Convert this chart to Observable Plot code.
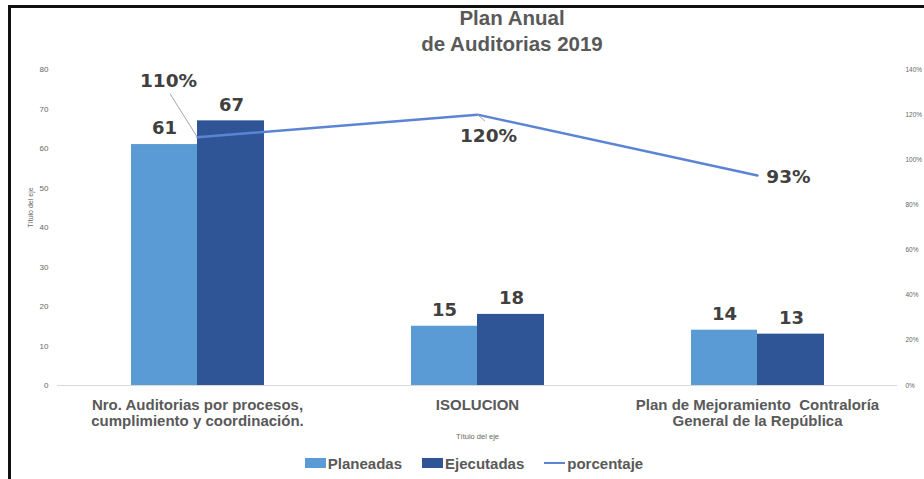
<!DOCTYPE html>
<html><head><meta charset="utf-8">
<script src="https://cdn.jsdelivr.net/npm/d3@7"></script>
<script src="https://cdn.jsdelivr.net/npm/@observablehq/plot@0.6"></script>
<style>
body{margin:0;background:#fff;}
#wrap{position:relative;width:924px;height:479px;overflow:hidden;font-family:"Liberation Sans",Arial,sans-serif;background:#fff;}
#frame{position:absolute;left:8px;top:5px;width:930px;height:471px;border-top:3px solid #111;border-left:3px solid #111;border-bottom:2px solid #d9d9d9;}
#title{position:absolute;left:0;top:5px;width:824px;padding-left:100px;text-align:center;font-weight:bold;font-size:20.5px;line-height:26px;color:#595959;}
#chart{position:absolute;left:0;top:60px;}
#legend{position:absolute;left:0;top:451px;width:900px;padding-left:24px;height:24px;display:flex;justify-content:center;align-items:center;font-weight:bold;font-size:15px;color:#595959;}
#legend .it{display:flex;align-items:center;margin:0 10px;}
#legend .sw{display:inline-block;width:21px;height:10px;margin-right:2px;}
#legend .ln{display:inline-block;width:21px;height:2.5px;margin-right:2px;}
</style></head><body>
<div id="wrap">
  <div id="frame"></div>
  <div id="title">Plan Anual<br>de Auditorias 2019</div>
  <div id="chart"></div>
  <div id="legend"></div>
</div>
<script>
const categories = [
  "Nro. Auditorias por procesos,\ncumplimiento y coordinación.",
  "ISOLUCION",
  "Plan de Mejoramiento  Contraloría\nGeneral de la República"
];
const planeadas = [61, 15, 14];
const ejecutadas = [67, 18, 13];
const porcentaje = [1.10, 1.20, 0.93];
const leftTicks = [0, 10, 20, 30, 40, 50, 60, 70, 80];
const rightTicks = [0, 0.2, 0.4, 0.6, 0.8, 1.0, 1.2, 1.4];
const seriesNames = ["Planeadas", "Ejecutadas", "porcentaje"];
const axisTitle = "Título del eje";

const colors = {plan: "#5b9bd5", ejec: "#2f5597", pct: "#5b84d4"};
const yMax = 80, pMax = 1.4;
const p2y = p => p * yMax / pMax;

const data = categories.map((c, i) => ({cat: c, plan: planeadas[i], ejec: ejecutadas[i], pct: porcentaje[i], py: p2y(porcentaje[i])}));

const labelFont = "DejaVu Sans, Verdana, sans-serif";
const pctText = (i, dx, dy) => Plot.text([data[i]], {x: "cat", y: "py", text: d => Math.round(d.pct * 100) + "%", dx, dy, fontSize: 18.5, fontWeight: "bold", fill: "#404040", fontFamily: labelFont});

const plot = Plot.plot({
  width: 924,
  height: 390,
  marginTop: 9,
  marginBottom: 65,
  marginLeft: 57,
  marginRight: 27,
  style: {fontFamily: "Liberation Sans, Arial, sans-serif", background: "transparent", overflow: "visible"},
  x: {domain: categories, padding: 0, axis: null},
  y: {domain: [0, yMax], axis: null},
  marks: [
    Plot.ruleY([0], {stroke: "#d9d9d9", strokeWidth: 1}),
    Plot.barY(data, {x: "cat", y: "plan", fill: colors.plan, insetLeft: 74, insetRight: 140}),
    Plot.barY(data, {x: "cat", y: "ejec", fill: colors.ejec, insetLeft: 140, insetRight: 73}),
    Plot.line(data, {x: "cat", y: "py", stroke: colors.pct, strokeWidth: 2.5}),
    Plot.text(data, {x: "cat", y: "plan", text: d => String(d.plan), dx: -33, dy: -16, fontSize: 18, fontWeight: "bold", fill: "#404040", fontFamily: labelFont}),
    Plot.text(data, {x: "cat", y: "ejec", text: d => String(d.ejec), dx: 34, dy: -16, fontSize: 18, fontWeight: "bold", fill: "#404040", fontFamily: labelFont}),
    pctText(0, -29, -56),
    pctText(1, 11, 21),
    pctText(2, 31, 1),
    Plot.axisY({ticks: leftTicks, tickSize: 0, tickPadding: 9, fontSize: 8, color: "#666", label: null}),
    Plot.axisY({anchor: "right", ticks: rightTicks.map(p2y), tickFormat: d => Math.round(d * pMax / yMax * 100) + "%", tickSize: 0, tickPadding: 8, fontSize: 6.5, color: "#666", label: null}),
    Plot.text([axisTitle], {frameAnchor: "left", dx: -27, rotate: -90, fontSize: 7, fill: "#666"}),
    Plot.text([axisTitle], {frameAnchor: "bottom", dy: 53, fontSize: 7.5, fill: "#666"}),
    Plot.text(data, {x: "cat", text: "cat", frameAnchor: "bottom", lineAnchor: "top", dy: 13, fontSize: 15, fontWeight: "bold", fill: "#595959", lineHeight: 1.08})
  ]
});

// leader lines for percentage labels, placed with the plot's own scales
const sx = plot.scale("x"), sy = plot.scale("y");
const cx = c => sx.apply(c) + (sx.bandwidth || 0) / 2;
const svg = d3.select(plot);
const leaders = [
  {i: 0, ox: -27, oy: -43},
  {i: 1, ox: 8, oy: 7}
];
leaders.forEach(({i, ox, oy}) => {
  const x0 = cx(data[i].cat), y0 = sy.apply(data[i].py);
  svg.append("line").attr("x1", x0).attr("y1", y0).attr("x2", x0 + ox).attr("y2", y0 + oy)
    .attr("stroke", "#a6a6a6").attr("stroke-width", 1);
});

document.getElementById("chart").appendChild(plot);

const legend = document.getElementById("legend");
[["sw", colors.plan], ["sw", colors.ejec], ["ln", colors.pct]].forEach(([k, c], i) => {
  const it = document.createElement("span");
  it.className = "it";
  const s = document.createElement("span");
  s.className = k; s.style.background = c;
  it.appendChild(s);
  it.appendChild(document.createTextNode(seriesNames[i]));
  legend.appendChild(it);
});
</script>
</body></html>
